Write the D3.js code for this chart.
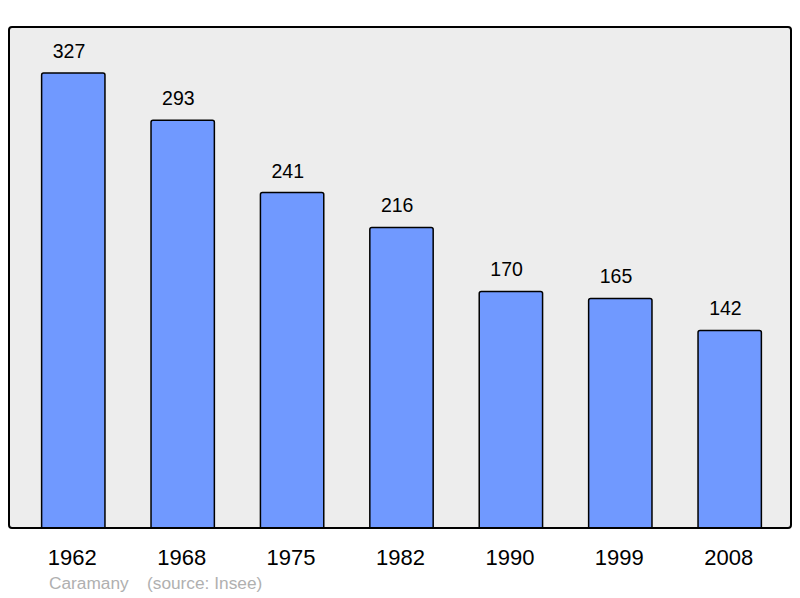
<!DOCTYPE html>
<html>
<head>
  <meta charset="utf-8">
  <title>Caramany population</title>
  <script src="https://cdn.jsdelivr.net/npm/d3@7"></script>
  <style>
    body { margin: 0; background: #fff; }
    svg { display: block; font-family: "Liberation Sans", Arial, sans-serif; }
    .val { font-size: 19.5px; fill: #000; }
    .year { font-size: 22px; fill: #000; }
    .note { font-size: 17.3px; fill: #b0b0b0; }
  </style>
</head>
<body>
  <svg id="chart" width="800" height="598"></svg>
  <script>
    var years = ["1962", "1968", "1975", "1982", "1990", "1999", "2008"];
    var population = [327, 293, 241, 216, 170, 165, 142];
    var place = "Caramany";
    var source = "(source: Insee)";

    var svg = d3.select("#chart");
    var frame = { left: 9, top: 27, right: 791, bottom: 528 };

    var x = d3.scaleBand()
      .domain(years)
      .range([8.8, 794.2])
      .paddingInner(0.421)
      .paddingOuter(0.3);

    var y = d3.scaleLinear()
      .domain([0, 360])
      .range([frame.bottom, frame.top]);

    svg.append("rect")
      .attr("x", frame.left)
      .attr("y", frame.top)
      .attr("width", frame.right - frame.left)
      .attr("height", frame.bottom - frame.top)
      .attr("rx", 3)
      .style("fill", "#ededed");

    var bars = svg.append("g");
    years.forEach(function (yr, i) {
      var cx = x(yr) + x.bandwidth() / 2;
      bars.append("rect")
        .attr("x", x(yr))
        .attr("y", y(population[i]))
        .attr("width", x.bandwidth())
        .attr("height", y(0) - y(population[i]) + 3)
        .attr("rx", 2)
        .style("fill", "#7099ff")
        .style("stroke", "#000")
        .style("stroke-width", 1.5);

      // value labels sit a little left of the bar centre in the original
      svg.append("text")
        .attr("class", "val")
        .attr("x", cx - 4.3)
        .attr("y", y(population[i]) - 15)
        .attr("text-anchor", "middle")
        .text(population[i]);

      svg.append("text")
        .attr("class", "year")
        .attr("x", cx - 1)
        .attr("y", 564.5)
        .attr("text-anchor", "middle")
        .text(yr);
    });

    // frame border drawn on top so bar bottoms sit under it
    svg.append("rect")
      .attr("x", frame.left)
      .attr("y", frame.top)
      .attr("width", frame.right - frame.left)
      .attr("height", frame.bottom - frame.top)
      .attr("rx", 3)
      .style("fill", "none")
      .style("stroke", "#000")
      .style("stroke-width", 2);

    svg.append("rect")
      .attr("x", frame.left - 2)
      .attr("y", frame.bottom + 1)
      .attr("width", frame.right - frame.left + 4)
      .attr("height", 6)
      .style("fill", "#fff");

    svg.append("text").attr("class", "note").attr("x", 49).attr("y", 589).text(place);
    svg.append("text").attr("class", "note").attr("x", 147).attr("y", 589).text(source);
  </script>
</body>
</html>
